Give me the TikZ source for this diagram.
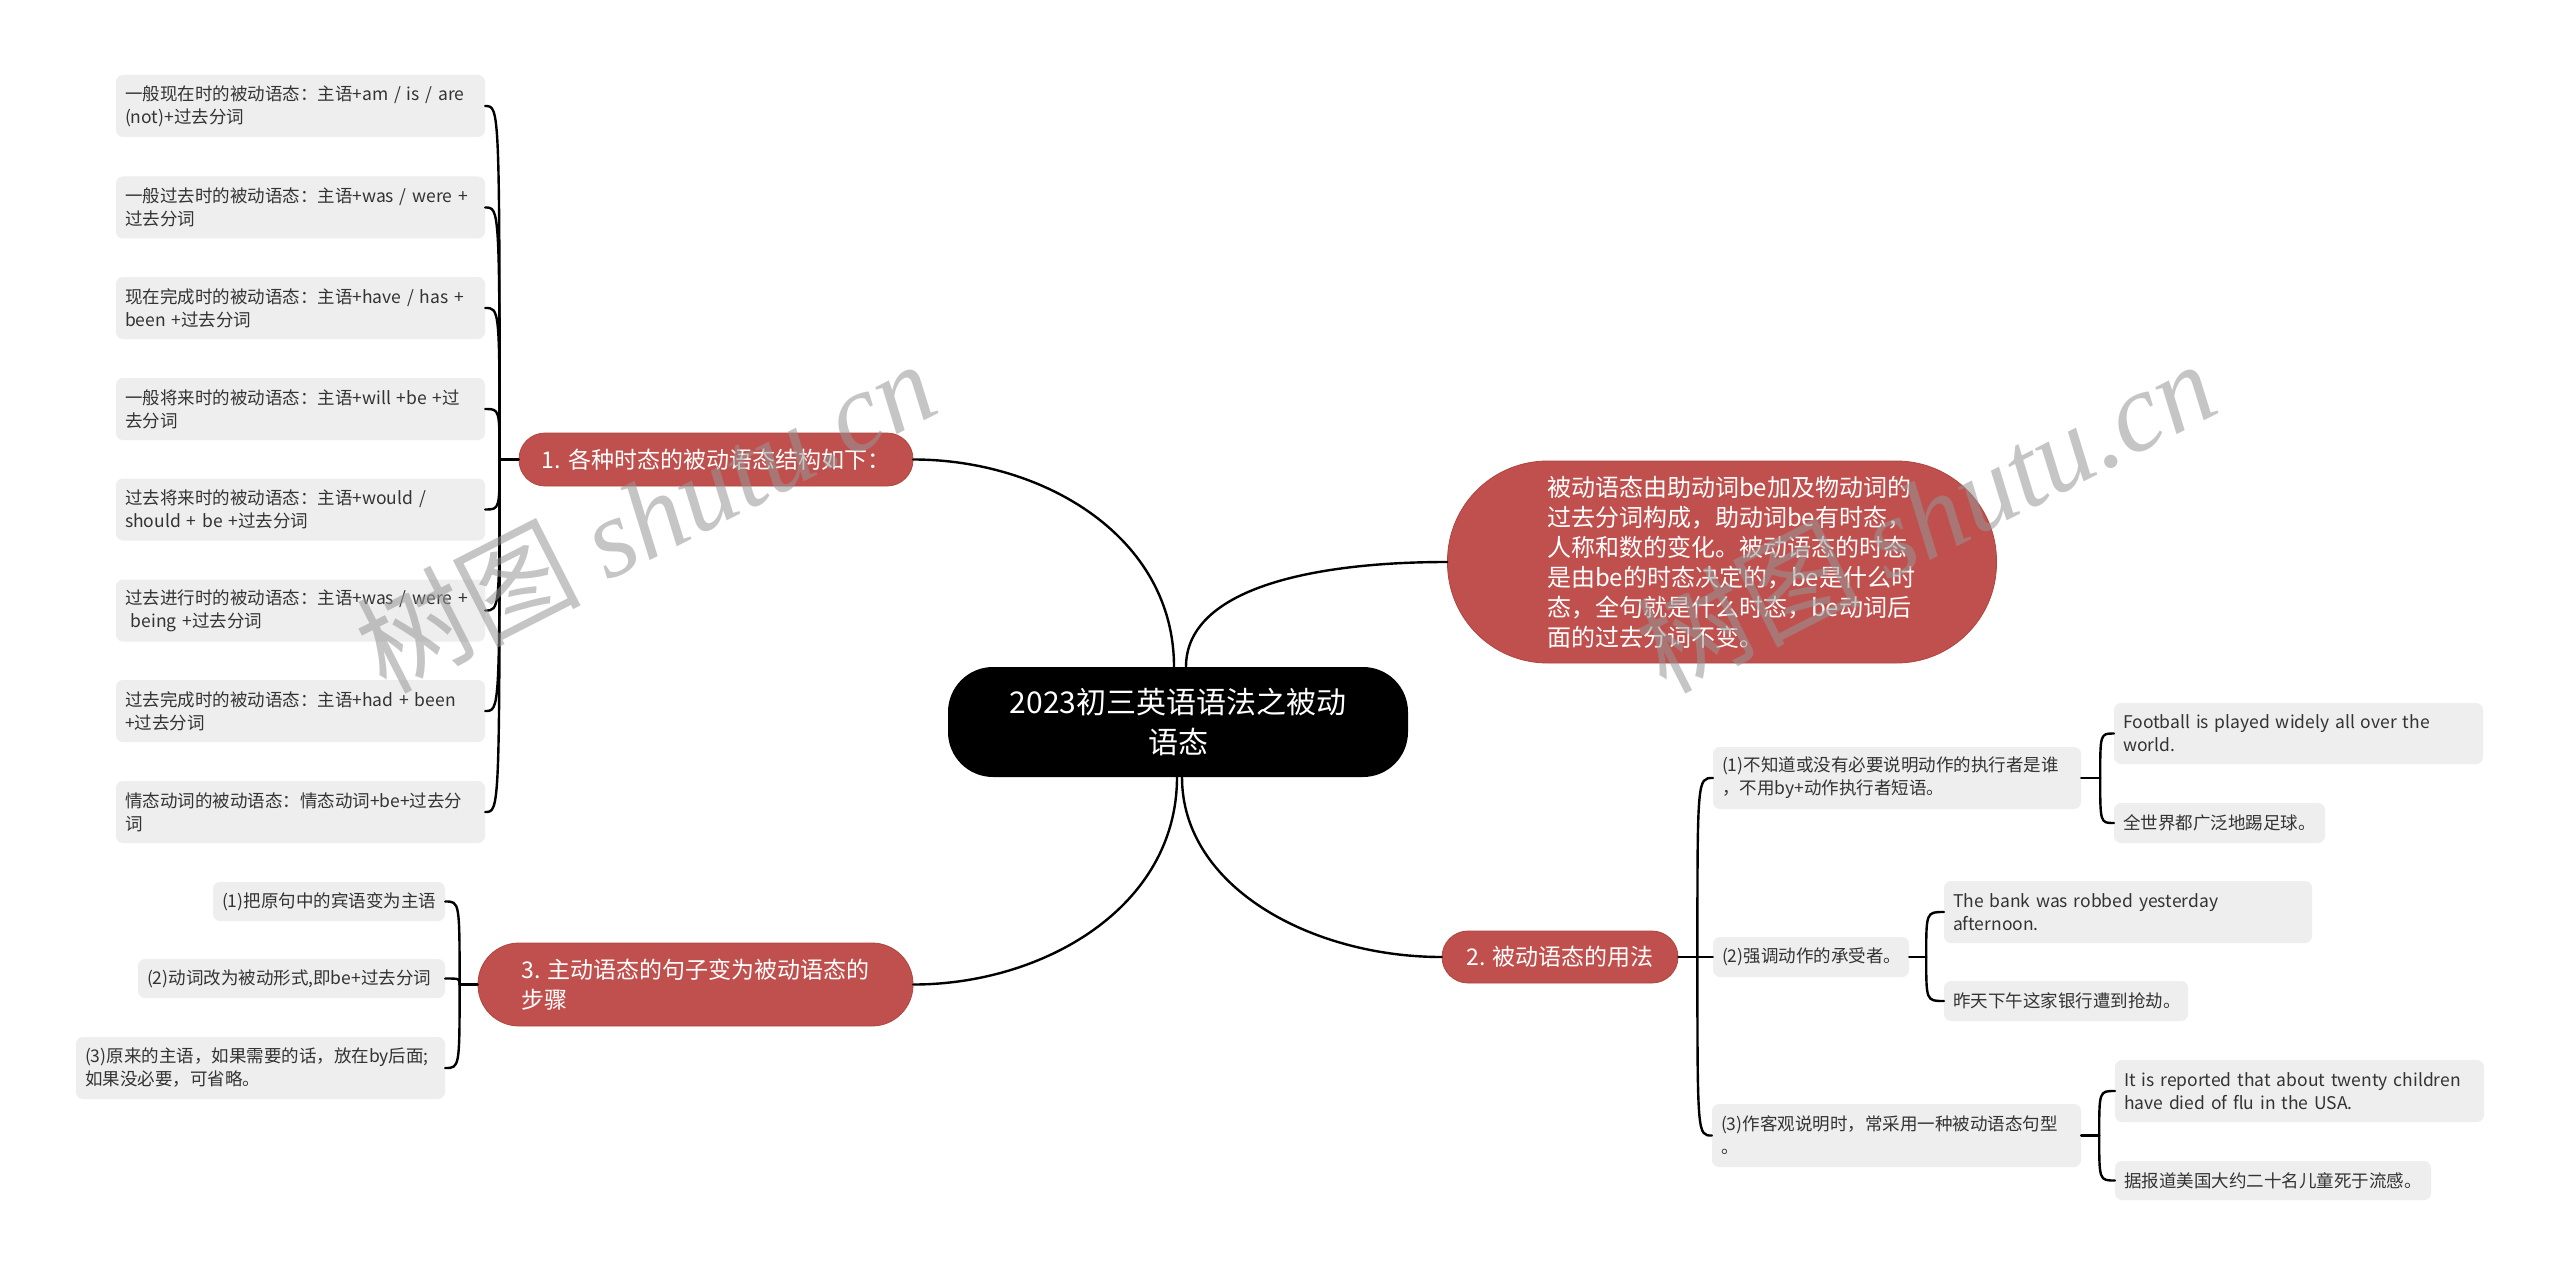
\documentclass[tikz,border=0pt]{standalone}
\usepackage{fontspec}
\setmainfont{Noto Sans CJK SC}
\newfontfamily\wmlatin{Liberation Serif}
\usetikzlibrary{calc}
\definecolor{topicred}{HTML}{C0504D}
\definecolor{topicedge}{HTML}{B0453F}
\definecolor{leafgray}{HTML}{EEEEEE}
\definecolor{leaftext}{HTML}{333333}
\definecolor{wmgray}{HTML}{969696}
\begin{document}
\begin{tikzpicture}[x=1pt,y=-1pt,
  leaf/.style={rectangle, rounded corners=7pt, fill=leafgray, text=leaftext,
    font=\fontsize{17.5}{23}\selectfont, inner xsep=9pt, inner ysep=0pt, align=left},
  topic/.style={rectangle, fill=topicred, draw=topicedge, line width=0.8pt, text=white,
    font=\fontsize{23}{30}\selectfont, inner sep=0pt},
  root/.style={rectangle, fill=black, text=white, font=\fontsize{30}{40}\selectfont,
    inner sep=0pt, align=center, rounded corners=45pt},
  conn/.style={line width=2.4pt, draw=black, line cap=round},
  wm/.style={text=wmgray, text opacity=0.55, font=\fontsize{112}{120}\selectfont, inner sep=0pt}
]
\fill[white] (0,0) rectangle (2560,1276);
\useasboundingbox (0,0) rectangle (2560,1276);

% root
\node[root, minimum width=460pt, minimum height=110pt] (C) at (1178,722) {2023初三英语语法之被动\\语态};

% main topics
\node[topic, rounded corners=100pt, minimum width=549pt, minimum height=202pt, text width=350pt,
  align=left, font=\fontsize{24}{30}\selectfont] (R) at (1722,562)
  {被动语态由助动词be加及物动词的\\过去分词构成，助动词be有时态，\\人称和数的变化。被动语态的时态\\是由be的时态决定的，be是什么时\\态，全句就是什么时态，be动词后\\面的过去分词不变。};
\node[topic, rounded corners=26pt, minimum width=394pt, minimum height=53pt, align=center] (T1) at (716,459.5) {1. 各种时态的被动语态结构如下：};
\node[topic, rounded corners=26pt, minimum width=236pt, minimum height=52pt, align=center] (T2) at (1560,957) {2. 被动语态的用法};
\node[topic, rounded corners=41pt, minimum width=435pt, minimum height=83pt, align=left] (T3) at (695.5,984.5) {3. 主动语态的句子变为被动语态的\\步骤};

% left leaves of topic 1
\node[leaf, text width=351pt, minimum height=62pt] (L1) at (300.5,106) {\mbox{一般现在时的被动语态：主语+am / is / are}\\(not)+过去分词};
\node[leaf, text width=351pt, minimum height=62pt] (L2) at (300.5,207.5) {\mbox{一般过去时的被动语态：主语+was / were +}\\过去分词};
\node[leaf, text width=351pt, minimum height=62pt] (L3) at (300.5,308) {\mbox{现在完成时的被动语态：主语+have / has +}\\\mbox{been +过去分词}};
\node[leaf, text width=351pt, minimum height=62pt] (L4) at (300.5,409) {\mbox{一般将来时的被动语态：主语+will +be +过}\\去分词};
\node[leaf, text width=351pt, minimum height=62pt] (L5) at (300.5,509.5) {\mbox{过去将来时的被动语态：主语+would /}\\\mbox{should + be +过去分词}};
\node[leaf, text width=351pt, minimum height=62pt] (L6) at (300.5,610.5) {\mbox{过去进行时的被动语态：主语+was / were +}\\\mbox{\ being +过去分词}};
\node[leaf, text width=351pt, minimum height=62pt] (L7) at (300.5,711) {\mbox{过去完成时的被动语态：主语+had + been}\\+过去分词};
\node[leaf, text width=351pt, minimum height=62pt] (L8) at (300.5,812) {\mbox{情态动词的被动语态：情态动词+be+过去分}\\词};

% leaves of topic 3
\node[leaf, text width=214pt, minimum height=39pt] (S1) at (329,901.5) {(1)把原句中的宾语变为主语};
\node[leaf, text width=289pt, minimum height=39pt] (S2) at (291.5,978.5) {(2)动词改为被动形式,即be+过去分词};
\node[leaf, text width=351pt, minimum height=62pt] (S3) at (260.5,1068) {\mbox{(3)原来的主语，如果需要的话，放在by后面;}\\如果没必要，可省略。};

% children of topic 2
\node[leaf, text width=350pt, minimum height=62pt] (U1) at (1897,778) {(1)不知道或没有必要说明动作的执行者是谁\\，不用by+动作执行者短语。};
\node[leaf, text width=178pt, minimum height=40pt] (U2) at (1811,957) {(2)强调动作的承受者。};
\node[leaf, text width=351pt, minimum height=63pt] (U3) at (1896.5,1135.5) {(3)作客观说明时，常采用一种被动语态句型\\。};

\node[leaf, text width=351pt, minimum height=61pt] (V1) at (2298.5,733.5) {\mbox{Football is played widely all over the}\\world.};
\node[leaf, text width=193pt, minimum height=40pt] (V2) at (2219.5,823) {全世界都广泛地踢足球。};
\node[leaf, text width=350pt, minimum height=62pt] (V3) at (2128,912) {\mbox{The bank was robbed yesterday}\\afternoon.};
\node[leaf, text width=226pt, minimum height=40pt] (V4) at (2066,1001) {昨天下午这家银行遭到抢劫。};
\node[leaf, text width=351pt, minimum height=62pt] (V5) at (2299.5,1091) {\mbox{It is reported that about twenty children}\\\mbox{have died of flu in the USA.}};
\node[leaf, text width=298pt, minimum height=39pt] (V6) at (2273,1180.5) {据报道美国大约二十名儿童死于流感。};

% root connectors
\draw[conn] ([xshift=-4pt]C.north) .. controls +(0,-130) and +(130,0) .. (T1.east);
\draw[conn] ([xshift=8pt]C.north) .. controls +(0,-77) and +(-138,0) .. (R.west);
\draw[conn] ([xshift=-1pt]C.south) .. controls +(0,130) and +(130,0) .. (T3.east);
\draw[conn] ([xshift=4pt]C.south) .. controls +(0,110) and +(-130,0) .. (T2.west);

% topic 1 bracket
\coordinate (p1) at ($(T1.west)+(-19,0)$);
\draw[conn] (T1.west) -- (p1);
\foreach \n in {L1,L2,L3,L4,L5,L6,L7,L8}
  \draw[conn] (p1) .. controls (p1 |- \n.east) .. (\n.east);

% topic 3 bracket
\coordinate (p3) at ($(T3.west)+(-18,0)$);
\draw[conn] (T3.west) -- (p3);
\foreach \n in {S1,S2,S3}
  \draw[conn] (p3) .. controls (p3 |- \n.east) .. (\n.east);

% topic 2 bracket
\coordinate (p2) at ($(T2.east)+(19,0)$);
\draw[conn] (T2.east) -- (p2);
\foreach \n in {U1,U2,U3}
  \draw[conn] (p2) .. controls (p2 |- \n.west) .. (\n.west);

\coordinate (q1) at ($(U1.east)+(19,0)$);
\draw[conn] (U1.east) -- (q1);
\foreach \n in {V1,V2}
  \draw[conn] (q1) .. controls (q1 |- \n.west) .. (\n.west);

\coordinate (q2) at ($(U2.east)+(17,0)$);
\draw[conn] (U2.east) -- (q2);
\foreach \n in {V3,V4}
  \draw[conn] (q2) .. controls (q2 |- \n.west) .. (\n.west);

\coordinate (q3) at ($(U3.east)+(18,0)$);
\draw[conn] (U3.east) -- (q3);
\foreach \n in {V5,V6}
  \draw[conn] (q3) .. controls (q3 |- \n.west) .. (\n.west);

% watermarks
\node[wm, rotate=27] (wm1) at (645,515) {树图 {\wmlatin\itshape shutu.cn}};
\node[wm, rotate=27] (wm2) at (1925,515) {树图 {\wmlatin\itshape shutu.cn}};
\end{tikzpicture}
\end{document}
